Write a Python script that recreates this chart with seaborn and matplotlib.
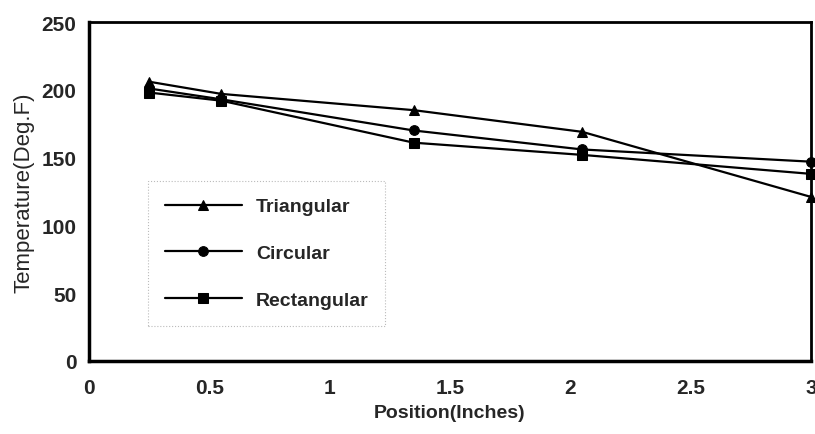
import matplotlib
matplotlib.use("Agg")
import matplotlib.pyplot as plt
import seaborn as sns
import pandas as pd

positions = [0.25, 0.55, 1.35, 2.05, 3.0]
triangular = [206, 197, 185, 169, 121]
circular = [201, 193, 170, 156, 147]
rectangular = [198, 192, 161, 152, 138]
series_names = ["Triangular", "Circular", "Rectangular"]
x_ticks = [0, 0.5, 1, 1.5, 2, 2.5, 3]
x_tick_labels = ["0", "0.5", "1", "1.5", "2", "2.5", "3"]
y_ticks = [0, 50, 100, 150, 200, 250]

sns.set_theme(style="white")
plt.rcParams["font.family"] = ["Liberation Sans", "DejaVu Sans"]

rows = []
for name, vals in zip(series_names, [triangular, circular, rectangular]):
    for x, y in zip(positions, vals):
        rows.append({"Position": x, "Temperature": y, "Shape": name})
df = pd.DataFrame(rows)

fig = plt.figure(figsize=(8.15, 4.35), dpi=100)
ax = fig.add_axes([0.109, 0.168, 0.886, 0.779])

sns.lineplot(data=df, x="Position", y="Temperature", hue="Shape", style="Shape",
             hue_order=series_names, style_order=series_names,
             palette=["black"] * 3, markers={"Triangular": "^", "Circular": "o", "Rectangular": "s"},
             dashes=False, markersize=7, linewidth=1.6, markeredgecolor="black",
             ax=ax, clip_on=False)

ax.set_xlim(0, 3)
ax.set_ylim(0, 250)
ax.set_xticks(x_ticks)
ax.set_xticklabels(x_tick_labels)
ax.set_yticks(y_ticks)
for lab in ax.get_xticklabels() + ax.get_yticklabels():
    lab.set_fontweight("bold")
    lab.set_fontsize(15)
ax.tick_params(axis="both", direction="out", length=3, width=0.8, color="black", pad=6)
ax.tick_params(axis="x", pad=9)
for sp in ax.spines.values():
    sp.set_color("black")
for s in ["left", "bottom"]:
    ax.spines[s].set_linewidth(2.5)
for s in ["top", "right"]:
    ax.spines[s].set_linewidth(2.0)

ax.set_xlabel("Position(Inches)", fontsize=14, fontweight="bold", labelpad=5)
ax.set_ylabel("Temperature(Deg.F)", fontsize=16, labelpad=5)

leg = ax.legend(title=None, loc="upper left", bbox_to_anchor=(0.082, 0.53),
                borderaxespad=0.0,
                frameon=True, fontsize=14, handlelength=4.0, labelspacing=1.5,
                borderpad=0.85, handletextpad=0.7, fancybox=False)
leg.get_frame().set_edgecolor("#aaaaaa")
leg.get_frame().set_linestyle(":")
leg.get_frame().set_linewidth(0.8)
for t in leg.get_texts():
    t.set_fontweight("bold")

fig.savefig("out.png", dpi=100)
